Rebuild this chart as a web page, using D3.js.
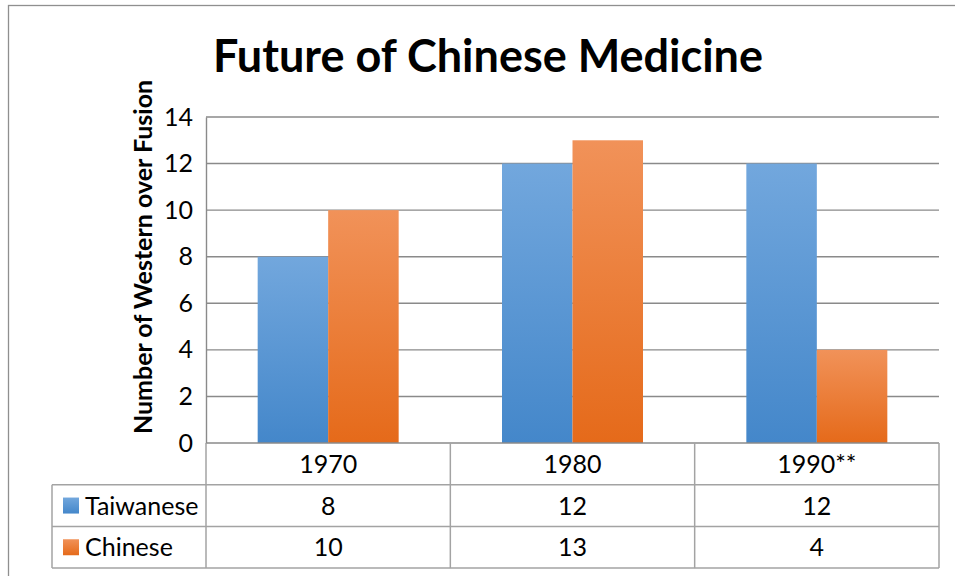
<!DOCTYPE html>
<html>
<head>
<meta charset="utf-8">
<script src="https://cdn.jsdelivr.net/npm/d3@7"></script>
<style>
  html, body { margin: 0; padding: 0; background: #fff; }
  svg { display: block; }
  text { font-family: Lato, "Open Sans", "Liberation Sans", sans-serif; fill: #000; }
</style>
</head>
<body>
<svg id="chart" width="955" height="576"></svg>
<script>
// Chart data
const categories = ["1970", "1980", "1990**"];
const seriesNames = ["Taiwanese", "Chinese"];
const taiwanese = [8, 12, 12];
const chinese = [10, 13, 4];
const yTicks = [0, 2, 4, 6, 8, 10, 12, 14];
const titleText = "Future of Chinese Medicine";
const yLabel = "Number of Western over Fusion";

const seriesValues = [taiwanese, chinese];
const colors = {
  Taiwanese: { top: "#72a7dd", bottom: "#4487ca" },
  Chinese:   { top: "#f19259", bottom: "#e56a1a" }
};

const svg = d3.select("#chart");

// Plot geometry
const plotL = 206, plotR = 939, plotT = 117, plotB = 443;
const rowH = 41.7;
const tableL = 52;
const fs = 25;

// Gradients
const defs = svg.append("defs");
seriesNames.forEach((s, i) => {
  const g = defs.append("linearGradient")
    .attr("id", "grad" + i)
    .attr("x1", 0).attr("y1", 0).attr("x2", 0).attr("y2", 1);
  g.append("stop").attr("offset", "0%").attr("stop-color", colors[s].top);
  g.append("stop").attr("offset", "100%").attr("stop-color", colors[s].bottom);
});

// Outer chart border
svg.append("rect")
  .attr("x", 8.5).attr("y", 5.5)
  .attr("width", 960).attr("height", 600)
  .attr("fill", "none").attr("stroke", "#8f8f8f").attr("stroke-width", 1.3);

// Title
svg.append("text")
  .attr("x", 488).attr("y", 72)
  .attr("text-anchor", "middle")
  .attr("font-size", 45).attr("font-weight", "bold")
  .text(titleText);

// Scales
const x0 = d3.scaleBand().domain(categories).range([plotL, plotR]).paddingInner(0).paddingOuter(0);
const x1 = d3.scaleBand().domain(seriesNames).range([0, x0.bandwidth()]).paddingInner(0).paddingOuter(0.733);
const y = d3.scaleLinear().domain([0, 14]).range([plotB, plotT]);

// Gridlines
svg.append("g")
  .selectAll("line")
  .data(yTicks.filter(t => t > 0))
  .join("line")
  .attr("x1", plotL).attr("x2", plotR)
  .attr("y1", d => y(d)).attr("y2", d => y(d))
  .attr("stroke", "#8a8a8a").attr("stroke-width", 1.4);

// Y axis
const yAxis = svg.append("g")
  .attr("transform", `translate(${plotL},0)`)
  .call(d3.axisLeft(y).tickValues(yTicks).tickSize(0).tickPadding(13));
yAxis.select(".domain").attr("stroke", "#8a8a8a").attr("stroke-width", 1.4);
yAxis.selectAll("text")
  .attr("font-size", fs)
  .attr("font-family", "Lato, 'Open Sans', sans-serif")
  .attr("fill", "#000");

// Y axis title
svg.append("text")
  .attr("transform", `translate(152,257) rotate(-90)`)
  .attr("text-anchor", "middle")
  .attr("font-size", 25).attr("font-weight", "bold")
  .text(yLabel);

// Bars
const groups = svg.append("g")
  .selectAll("g")
  .data(categories)
  .join("g")
  .attr("transform", d => `translate(${x0(d)},0)`);

groups.selectAll("rect")
  .data((d, ci) => seriesNames.map((s, si) => ({ s, si, v: seriesValues[si][ci] })))
  .join("rect")
  .attr("x", d => x1(d.s))
  .attr("y", d => y(d.v))
  .attr("width", x1.bandwidth())
  .attr("height", d => y(0) - y(d.v))
  .attr("fill", d => `url(#grad${d.si})`);

// Data table
const tbl = svg.append("g");
const lineColor = "#a3a3a3";
const rowsY = [plotB, plotB + rowH, plotB + 2 * rowH, plotB + 3 * rowH];

// horizontal lines
tbl.append("line").attr("x1", plotL).attr("x2", plotR).attr("y1", rowsY[0]).attr("y2", rowsY[0])
  .attr("stroke", "#8a8a8a").attr("stroke-width", 1.6);
[1, 2, 3].forEach(i => {
  tbl.append("line").attr("x1", tableL).attr("x2", plotR)
    .attr("y1", rowsY[i]).attr("y2", rowsY[i])
    .attr("stroke", lineColor).attr("stroke-width", 1.5);
});
// vertical lines
tbl.append("line").attr("x1", tableL).attr("x2", tableL).attr("y1", rowsY[1]).attr("y2", rowsY[3])
  .attr("stroke", lineColor).attr("stroke-width", 1.5);
tbl.append("line").attr("x1", plotL).attr("x2", plotL).attr("y1", rowsY[0]).attr("y2", rowsY[3])
  .attr("stroke", lineColor).attr("stroke-width", 1.5);
categories.forEach(c => {
  const xr = x0(c) + x0.bandwidth();
  tbl.append("line").attr("x1", xr).attr("x2", xr).attr("y1", rowsY[0]).attr("y2", rowsY[3])
    .attr("stroke", lineColor).attr("stroke-width", 1.5);
});

// header labels
tbl.selectAll("text.cat")
  .data(categories)
  .join("text")
  .attr("class", "cat")
  .attr("x", d => x0(d) + x0.bandwidth() / 2)
  .attr("y", rowsY[0] + rowH / 2 + 9)
  .attr("text-anchor", "middle")
  .attr("font-size", fs)
  .text(d => d);

// series rows
seriesNames.forEach((s, si) => {
  const ry = rowsY[si + 1];
  tbl.append("rect")
    .attr("x", 63).attr("y", ry + rowH / 2 - 8)
    .attr("width", 16).attr("height", 16)
    .attr("fill", `url(#grad${si})`);
  tbl.append("text")
    .attr("x", 85).attr("y", ry + rowH / 2 + 9)
    .attr("font-size", fs)
    .text(s);
  tbl.selectAll("text.v" + si)
    .data(categories)
    .join("text")
    .attr("class", "v" + si)
    .attr("x", d => x0(d) + x0.bandwidth() / 2)
    .attr("y", ry + rowH / 2 + 9)
    .attr("text-anchor", "middle")
    .attr("font-size", fs)
    .text((d, ci) => seriesValues[si][ci]);
});
</script>
</body>
</html>
